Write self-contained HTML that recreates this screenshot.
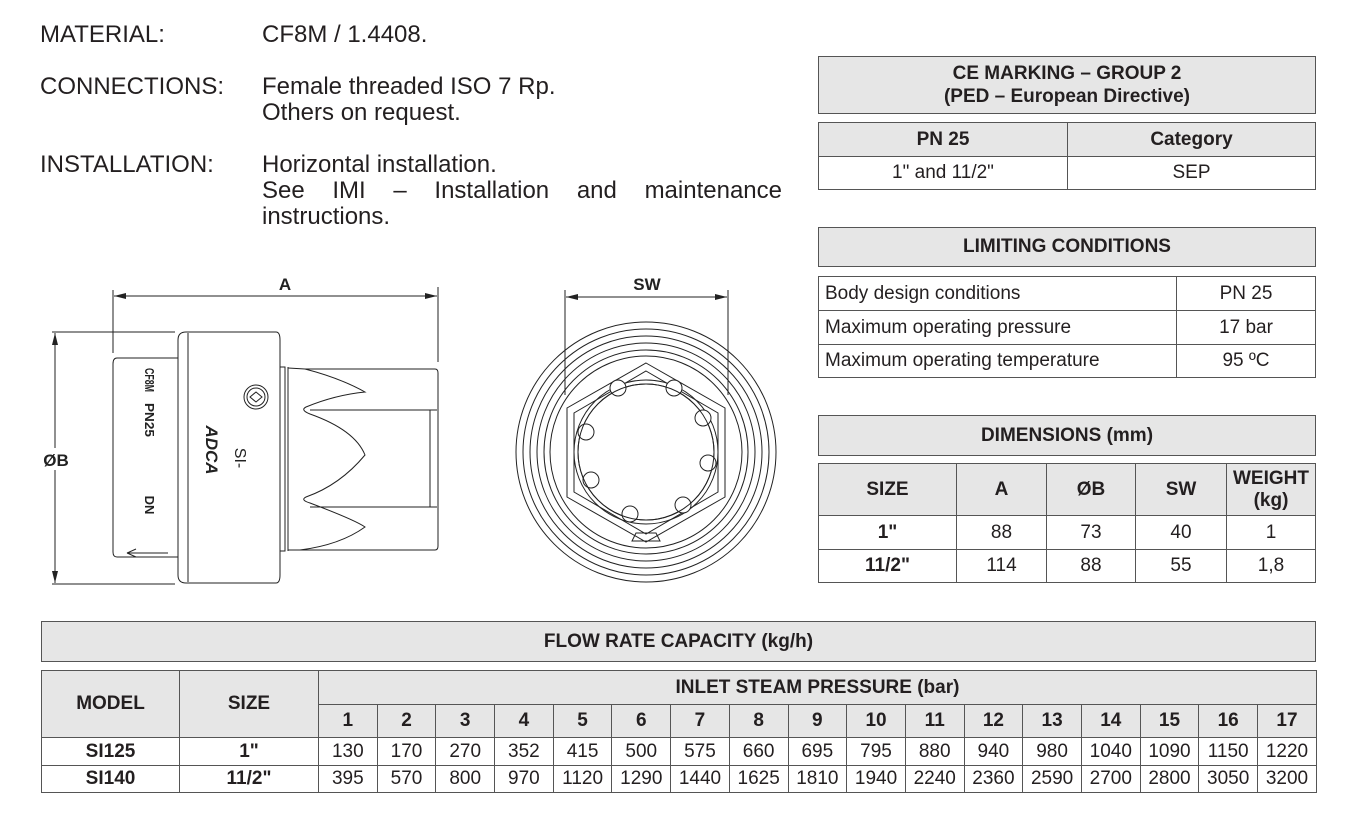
<!DOCTYPE html>
<html><head><meta charset="utf-8">
<style>
body{margin:0;width:1361px;height:817px;background:#fff;position:relative;overflow:hidden;font-family:"Liberation Sans",Arial,sans-serif;color:#231f20}
.t{position:absolute;font-size:24px;line-height:26px}
table{position:absolute;border-collapse:collapse;table-layout:fixed;font-size:19px}
td{border:1.5px solid #555;text-align:center;vertical-align:middle;padding:0;overflow:hidden;white-space:nowrap}
.g{background:#e6e6e6}
b,.b{font-weight:bold}
</style></head><body>
<div class="t" style="left:40px;top:22px">MATERIAL:</div>
<div class="t" style="left:262px;top:22px">CF8M / 1.4408.</div>
<div class="t" style="left:40px;top:74px">CONNECTIONS:</div>
<div class="t" style="left:262px;top:74px">Female threaded ISO 7 Rp.<br>Others on request.</div>
<div class="t" style="left:40px;top:152px">INSTALLATION:</div>
<div class="t" style="left:262px;top:152px;width:520px">Horizontal installation.<br><span style="display:inline-block;width:520px;text-align:justify;text-align-last:justify">See IMI – Installation and maintenance</span><br>instructions.</div>

<table style="left:818px;top:56px;width:498px"><tr><td class="g b" style="height:56px;line-height:23px">CE MARKING – GROUP 2<br>(PED – European Directive)</td></tr></table>
<table style="left:818px;top:122px;width:498px"><col style="width:249px"><col>
<tr><td class="g b" style="height:33px">PN 25</td><td class="g b">Category</td></tr>
<tr><td style="height:32px">1" and 11/2"</td><td>SEP</td></tr></table>

<table style="left:818px;top:227px;width:498px"><tr><td class="g b" style="height:38px">LIMITING CONDITIONS</td></tr></table>
<table style="left:818px;top:276px;width:498px"><col style="width:358px"><col>
<tr><td style="height:33px;text-align:left;padding-left:6px">Body design conditions</td><td>PN 25</td></tr>
<tr><td style="height:33px;text-align:left;padding-left:6px">Maximum operating pressure</td><td>17 bar</td></tr>
<tr><td style="height:32px;text-align:left;padding-left:6px">Maximum operating temperature</td><td>95 ºC</td></tr></table>

<table style="left:818px;top:415px;width:498px"><tr><td class="g b" style="height:39px">DIMENSIONS (mm)</td></tr></table>
<table style="left:818px;top:463px;width:498px"><col style="width:138px"><col style="width:90px"><col style="width:89px"><col style="width:91px"><col>
<tr class="b"><td class="g" style="height:51px">SIZE</td><td class="g">A</td><td class="g">ØB</td><td class="g">SW</td><td class="g" style="line-height:22px">WEIGHT<br>(kg)</td></tr>
<tr><td class="b" style="height:33px">1"</td><td>88</td><td>73</td><td>40</td><td>1</td></tr>
<tr><td class="b" style="height:32px">11/2"</td><td>114</td><td>88</td><td>55</td><td>1,8</td></tr></table>

<table style="left:41px;top:621px;width:1275px"><tr><td class="g b" style="height:39px">FLOW RATE CAPACITY (kg/h)</td></tr></table>
<table style="left:41px;top:670px;width:1275px"><col style="width:138px"><col style="width:139px"><col span="17" style="width:58.7px">
<tr class="b"><td class="g" rowspan="2">MODEL</td><td class="g" rowspan="2">SIZE</td><td class="g" colspan="17" style="height:33px">INLET STEAM PRESSURE (bar)</td></tr>
<tr class="b"><td class="g" style="height:32px">1</td><td class="g">2</td><td class="g">3</td><td class="g">4</td><td class="g">5</td><td class="g">6</td><td class="g">7</td><td class="g">8</td><td class="g">9</td><td class="g">10</td><td class="g">11</td><td class="g">12</td><td class="g">13</td><td class="g">14</td><td class="g">15</td><td class="g">16</td><td class="g">17</td></tr>
<tr><td class="b" style="height:27px">SI125</td><td class="b">1"</td><td>130</td><td>170</td><td>270</td><td>352</td><td>415</td><td>500</td><td>575</td><td>660</td><td>695</td><td>795</td><td>880</td><td>940</td><td>980</td><td>1040</td><td>1090</td><td>1150</td><td>1220</td></tr>
<tr><td class="b" style="height:26px">SI140</td><td class="b">11/2"</td><td>395</td><td>570</td><td>800</td><td>970</td><td>1120</td><td>1290</td><td>1440</td><td>1625</td><td>1810</td><td>1940</td><td>2240</td><td>2360</td><td>2590</td><td>2700</td><td>2800</td><td>3050</td><td>3200</td></tr></table>

<svg style="position:absolute;left:0;top:0" width="1361" height="817" fill="none" stroke="#222" stroke-width="1">
<defs><marker id="a" markerWidth="12" markerHeight="6" refX="12" refY="3" orient="auto-start-reverse"><path d="M0,0L12,3L0,6z" fill="#222" stroke="none"/></marker></defs>
<line x1="113" y1="290" x2="113" y2="353"/><line x1="438" y1="287" x2="438" y2="362"/>
<line x1="114" y1="296" x2="437" y2="296" marker-start="url(#a)" marker-end="url(#a)"/>
<text x="285" y="290" fill="#222" stroke="none" font-size="17" font-weight="bold" text-anchor="middle">A</text>
<line x1="52" y1="332" x2="175" y2="332"/><line x1="52" y1="584" x2="175" y2="584"/>
<line x1="55" y1="333" x2="55" y2="583" marker-start="url(#a)" marker-end="url(#a)"/>
<rect x="40" y="448" width="32" height="22" fill="#fff" stroke="none"/>
<text x="56" y="466" fill="#222" stroke="none" font-size="17" font-weight="bold" text-anchor="middle">ØB</text>
<path d="M178,358 H117 Q113,358 113,364 V552 Q113,557 117,557 H178"/>
<path d="M186,332 H276 Q280,332 280,340 V575 Q280,583 276,583 H186 Q178,583 178,575 V340 Q178,332 186,332 Z"/>
<line x1="188" y1="333" x2="188" y2="582"/>
<path d="M280,367 H285 V551 H280"/><line x1="288" y1="367" x2="288" y2="551"/>
<path d="M288,368 L305,369 Q340,378 365,392 Q335,395 306,407 Q300,410 310,414 Q355,430 365,455 Q340,485 306,497 Q300,500 310,503 Q355,520 365,527 Q340,545 300,550 L288,550"/>
<path d="M305,369 H435 Q438,369 438,373 V546 Q438,550 435,550 H300"/>
<line x1="310" y1="410" x2="437" y2="410"/><line x1="310" y1="507" x2="437" y2="507"/>
<line x1="430" y1="410" x2="430" y2="507"/>
<circle cx="256" cy="397" r="12"/><circle cx="256" cy="397" r="9"/><path d="M250,397 l6,-5 l6,5 l-6,5z"/>
<text transform="translate(145,380) rotate(90)" fill="#222" stroke="none" font-size="13" font-weight="bold" text-anchor="middle" textLength="24" lengthAdjust="spacingAndGlyphs">CF8M</text>
<text transform="translate(145,420) rotate(90)" fill="#222" stroke="none" font-size="13" font-weight="bold" text-anchor="middle" textLength="34" lengthAdjust="spacingAndGlyphs">PN25</text>
<text transform="translate(145,505) rotate(90)" fill="#222" stroke="none" font-size="13" font-weight="bold" text-anchor="middle">DN</text>
<text transform="translate(206,450) rotate(90)" fill="#222" stroke="none" font-size="17" font-weight="bold" font-style="italic" text-anchor="middle">ADCA</text>
<text transform="translate(235,458) rotate(90)" fill="#222" stroke="none" font-size="16" text-anchor="middle">SI-</text>
<path d="M168,553 H127 L136,549 M127,553 L136,557"/>
<line x1="565" y1="290" x2="565" y2="395"/><line x1="728" y1="290" x2="728" y2="395"/>
<line x1="566" y1="297" x2="727" y2="297" marker-start="url(#a)" marker-end="url(#a)"/>
<text x="647" y="290" fill="#222" stroke="none" font-size="17" font-weight="bold" text-anchor="middle">SW</text>
<g>
<circle cx="646" cy="452" r="130"/><circle cx="646" cy="452" r="123"/><circle cx="646" cy="452" r="116"/>
<circle cx="646" cy="452" r="109"/><circle cx="646" cy="452" r="102"/><circle cx="646" cy="452" r="96"/>
<path d="M646,363 L725,408 L725,497 L646,542 L567,497 L567,408 Z"/>
<path d="M646,371 L718,413 L718,492 L646,534 L574,492 L574,413 Z"/>
<circle cx="646" cy="452" r="72"/><circle cx="646" cy="452" r="68"/>
<path d="M632,541 h28 l-4,-8 h-20 z"/>
</g>
<g fill="#fff">
<circle cx="618" cy="388" r="8"/><circle cx="674" cy="388" r="8"/><circle cx="703" cy="418" r="8"/><circle cx="708" cy="463" r="8"/>
<circle cx="683" cy="505" r="8"/><circle cx="630" cy="514" r="8"/><circle cx="591" cy="480" r="8"/><circle cx="586" cy="432" r="8"/>
</g>
<circle cx="646" cy="452" r="68"/>
</svg>
</body></html>
